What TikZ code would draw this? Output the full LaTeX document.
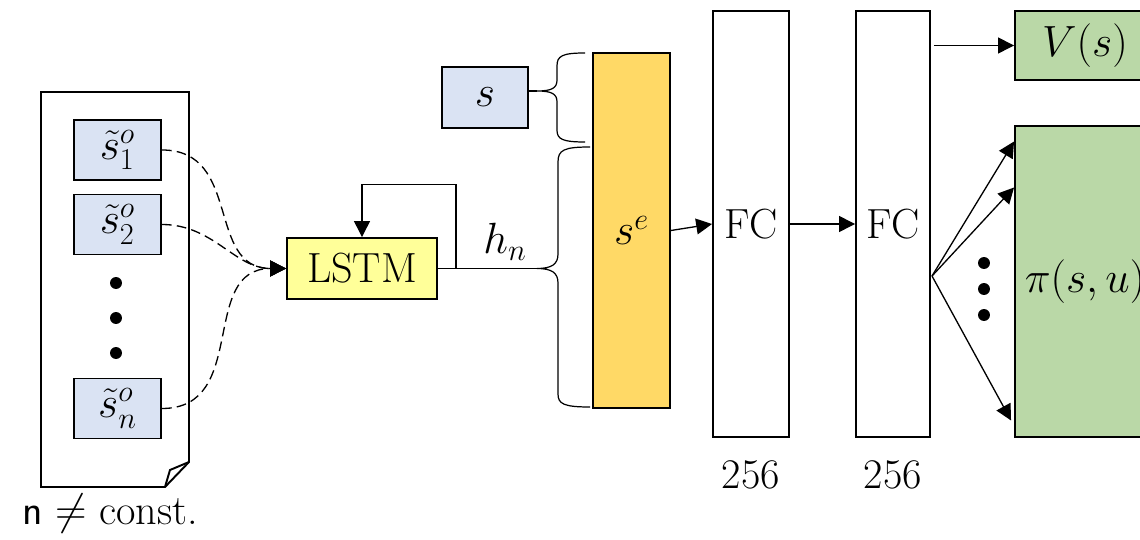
\documentclass[tikz,border=0pt]{standalone}
\usepackage{amsmath}
\definecolor{obsblue}{RGB}{218,227,243}
\definecolor{lstmyellow}{RGB}{255,255,153}
\definecolor{embedorange}{RGB}{255,217,102}
\definecolor{headgreen}{RGB}{186,216,167}
\usetikzlibrary{arrows.meta,positioning,calc}

\begin{document}
\begin{tikzpicture}[x=0.02cm, y=-0.02cm,
    font=\fontsize{24}{28}\selectfont,
    obsbox/.style={rectangle, draw, line width=1.1pt, fill=obsblue, minimum width=1.74cm,
      minimum height=1.2cm, inner sep=0pt},
    lstmbox/.style={rectangle, draw, line width=1.1pt, fill=lstmyellow, minimum width=3cm,
      minimum height=1.22cm, inner sep=0pt},
    fcbox/.style={rectangle, draw, line width=1.1pt, fill=white, minimum width=1.52cm,
      minimum height=8.52cm, inner sep=0pt},
    headbox/.style={rectangle, draw, line width=1.1pt, fill=headgreen, minimum width=2.8cm,
      inner sep=0pt},
    tri/.style={-{Triangle[length=9pt, width=9pt]}, line width=0.75pt},
    dashlink/.style={tri, dash pattern=on 5.5pt off 3pt},
    brace/.style={line width=0.7pt}
  ]
    \path[use as bounding box, clip] (0,0) rectangle (1140,540);

    % observation list
    \draw[line width=1.1pt] (41,92) -- (189,92) -- (189,462) -- (165,487) -- (41,487) -- cycle;
    \draw[line width=1.1pt] (165,487) -- (170,470) -- (189,462);
    \node[obsbox] (s1) at (117.5,150)   {$\tilde{s}^{o}_{1}$};
    \node[obsbox] (s2) at (117.5,224.5) {$\tilde{s}^{o}_{2}$};
    \node[obsbox] (sn) at (117.5,408.5) {$\tilde{s}^{o}_{n}$};
    \foreach \y in {283,318,353}
      \fill (116,\y) circle (3.4pt);
    \node (cnst) at (110,514) {{\sffamily n} $\neq$ const.};

    % LSTM
    \node[lstmbox] (lstm) at (362,268.5) {LSTM};
    \draw[dashlink] (s1.east) to[out=0, in=180, looseness=1.2] (lstm.west);
    \draw[dashlink] (s2.east) to[out=0, in=180] (lstm.west);
    \draw[dashlink] (sn.east) to[out=0, in=180, looseness=1.2] (lstm.west);
    \coordinate (fb) at (456,268.5);
    \draw[tri] (fb) -- ++(0,-84) -| (lstm.north);

    % state and embedding
    \node[obsbox, minimum width=1.72cm, minimum height=1.22cm] (s) at (485,97.5) {$s$};
    \coordinate (tipS) at (537,91);
    \coordinate (tipH) at (537,268.5);
    \draw[line width=0.7pt] (lstm.east) -- (tipH);
    \draw[line width=0.7pt] (s.east |- tipS) -- (tipS);
    \node (hn) at (505,242) {$h_n$};
    \draw[brace] (585,53) .. controls (562,53) and (557,56) .. (557,66) -- (557,80)
      .. controls (557,88) and (552,91) .. (tipS) .. controls (552,91) and (557,94) .. (557,102)
      -- (557,130) .. controls (557,139) and (562,142) .. (585,142);
    \draw[brace] (590,147) .. controls (564,147) and (558,150) .. (558,162) -- (558,254)
      .. controls (558,264) and (552,268.5) .. (tipH) .. controls (552,268.5) and (558,273) .. (558,283)
      -- (558,394) .. controls (558,404) and (564,407) .. (590,407);
    \node[rectangle, draw, line width=1.1pt, fill=embedorange, minimum width=1.54cm,
      minimum height=7.1cm, inner sep=0pt] (se) at (631.5,230.5) {$s^{e}$};

    % fully connected layers
    \node[fcbox] (fc1) at (751,224) {FC};
    \node[fcbox, minimum width=1.48cm] (fc2) at (893,224) {FC};
    \node (n1) at (751,475) {256};
    \node (n2) at (893,475) {256};
    \draw[tri] (se.east) -- (fc1.west);
    \draw[tri] (fc1.east) -- (fc2.west);

    % heads
    \node[headbox, minimum height=1.38cm] (vs) at (1085,45.5) {$V(s)$};
    \node[headbox, minimum height=6.22cm] (pi) at (1085,281.5) {$\pi(s,u)$};
    \draw[tri] ($(fc2.east |- vs.west)+(3,0)$) -- (vs.west);
    \coordinate (fan) at (932,276);
    \draw[tri] (fan) -- ($(pi.west)+(0,-140)$);
    \draw[tri] (fan) -- ($(pi.west)+(0,-94)$);
    \draw[tri] (fan) -- ($(pi.west)+(-3,139)$);
    \foreach \y in {263,289,315}
      \fill (984,\y) circle (3.4pt);
  \end{tikzpicture}
\end{document}
